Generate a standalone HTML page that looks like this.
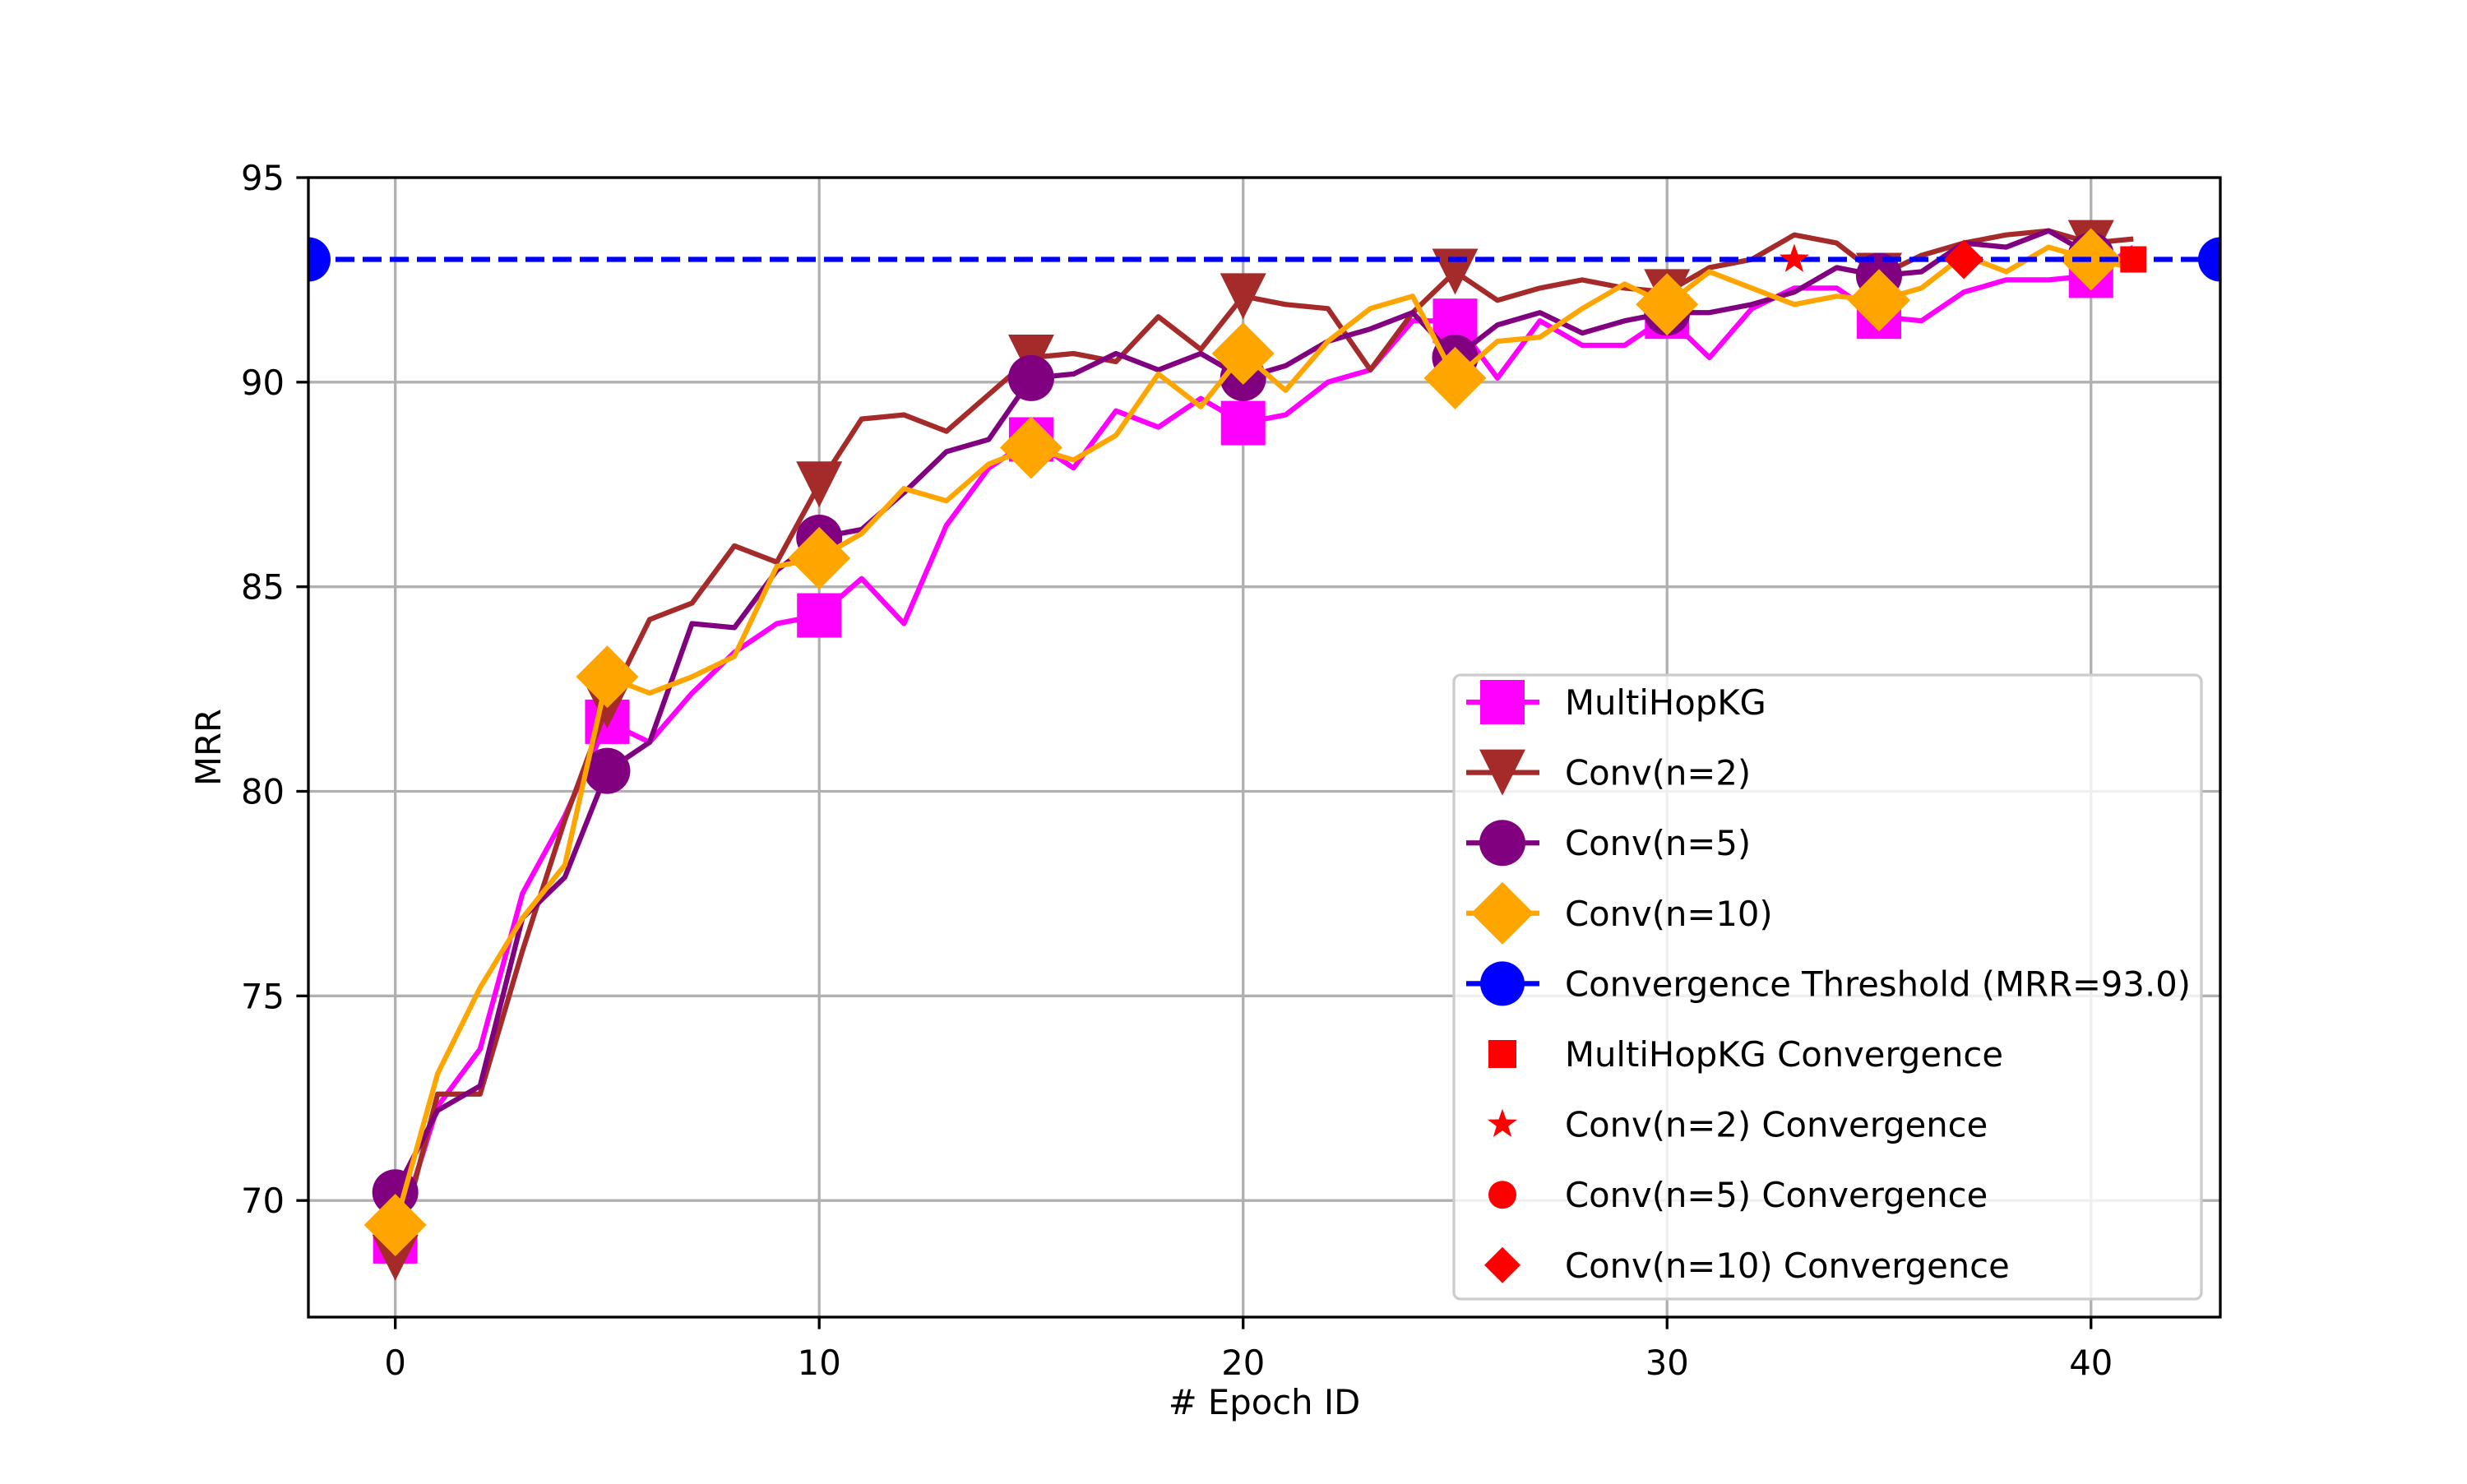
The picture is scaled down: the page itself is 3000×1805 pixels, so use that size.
<!DOCTYPE html>
<html><head><meta charset="utf-8"><style>
html,body{margin:0;padding:0;background:#fff;}
svg text{font-family:"DejaVu Sans","Liberation Sans",sans-serif;}
</style></head><body>
<svg id="chart" xmlns="http://www.w3.org/2000/svg" width="3000" height="1800" viewBox="0 0 3000 1800">
<rect width="3000" height="1800" fill="#fff"/>
<g id="grid"></g>
<g id="series"></g>
<g id="axes"></g>
<g id="legend"></g>
</svg>
<script>
const epochs = [0,1,2,3,4,5,6,7,8,9,10,11,12,13,14,15,16,17,18,19,20,21,22,23,24,25,26,27,28,29,30,31,32,33,34,35,36,37,38,39,40,41];
const multiHopKG = [69.0,72.3,73.7,77.5,79.4,81.7,81.2,82.4,83.4,84.1,84.3,85.2,84.1,86.5,87.9,88.6,87.9,89.3,88.9,89.6,89.0,89.2,90.0,90.3,91.5,91.5,90.1,91.5,90.9,90.9,91.6,90.6,91.8,92.3,92.3,91.6,91.5,92.2,92.5,92.5,92.6,93.3];
const conv2 = [68.6,72.6,72.6,76.1,79.3,82.1,84.2,84.6,86.0,85.6,87.5,89.1,89.2,88.8,89.7,90.6,90.7,90.5,91.6,90.8,92.1,91.9,91.8,90.3,91.7,92.7,92.0,92.3,92.5,92.3,92.2,92.8,93.0,93.6,93.4,92.6,93.1,93.4,93.6,93.7,93.4,93.5];
const conv5 = [70.2,72.2,72.8,76.9,77.9,80.5,81.2,84.1,84.0,85.4,86.2,86.4,87.3,88.3,88.6,90.1,90.2,90.7,90.3,90.7,90.1,90.4,91.0,91.3,91.7,90.6,91.4,91.7,91.2,91.5,91.7,91.7,91.9,92.2,92.8,92.6,92.7,93.4,93.3,93.7,93.1,92.9];
const conv10 = [69.4,73.1,75.2,76.9,78.2,82.8,82.4,82.8,83.3,85.5,85.7,86.3,87.4,87.1,88.0,88.4,88.1,88.7,90.2,89.4,90.7,89.8,91.0,91.8,92.1,90.1,91.0,91.1,91.8,92.4,91.9,92.7,92.3,91.9,92.1,92.0,92.3,93.1,92.7,93.3,93.0,92.8];
const threshold = [93.0];
const convergenceEpochs = [41,33,37,37];
const xTicks = [0,10,20,30,40];
const yTicks = [70,75,80,85,90,95];

const NS="http://www.w3.org/2000/svg";
const L=375,R=2700,T=216,B=1602;
const XMIN=-2.05,XMAX=43.05,YMIN=67.15,YMAX=95;
function sx(v){return L+(v-XMIN)/(XMAX-XMIN)*(R-L);}
function sy(v){return B-(v-YMIN)/(YMAX-YMIN)*(B-T);}
function mk(tag,attrs,parent){const e=document.createElementNS(NS,tag);for(const k in attrs)e.setAttribute(k,attrs[k]);parent.appendChild(e);return e;}

function marker(shape,cx,cy,s,color,parent){
  let e;
  if(shape==='square') e=mk('rect',{x:cx-s/2,y:cy-s/2,width:s,height:s,fill:color},parent);
  else if(shape==='tri') e=mk('polygon',{points:`${cx-s/2},${cy-s/2} ${cx+s/2},${cy-s/2} ${cx},${cy+s/2}`,fill:color},parent);
  else if(shape==='circle') e=mk('circle',{cx:cx,cy:cy,r:s/2,fill:color},parent);
  else if(shape==='diamond') e=mk('polygon',{points:`${cx},${cy-s/2} ${cx+s/2},${cy} ${cx},${cy+s/2} ${cx-s/2},${cy}`,fill:color},parent);
  else if(shape==='star'){let p=[];for(let i=0;i<10;i++){const r=i%2?s*0.2:s*0.5;const a=-Math.PI/2+i*Math.PI/5;p.push((cx+r*Math.cos(a)).toFixed(1)+','+(cy+r*Math.sin(a)).toFixed(1));}e=mk('polygon',{points:p.join(' '),fill:color},parent);}
  return e;
}

const grid=document.getElementById('grid');
xTicks.forEach(t=>{const l=mk('line',{x1:sx(t),x2:sx(t),y1:T,y2:B,stroke:'#b0b0b0','stroke-width':3.3},grid);

});
yTicks.forEach(t=>{const l=mk('line',{x1:L,x2:R,y1:sy(t),y2:sy(t),stroke:'#b0b0b0','stroke-width':3.3},grid);

});

const seriesG=document.getElementById('series');
const clip=mk('clipPath',{id:'pc'},mk('defs',{},seriesG));mk('rect',{x:L,y:T,width:R-L,height:B-T},clip);
const plotG=mk('g',{'clip-path':'url(#pc)'},seriesG);
const series=[
 {name:'multihopkg',vals:multiHopKG,color:'#ff00ff',shape:'square',size:54},
 {name:'conv-n2',vals:conv2,color:'#a52a2a',shape:'tri',size:56},
 {name:'conv-n5',vals:conv5,color:'#800080',shape:'circle',size:56},
 {name:'conv-n10',vals:conv10,color:'#ffa500',shape:'diamond',size:76}
];
series.forEach(s=>{
  const g=mk('g',{},plotG);
  
  
  const pts=epochs.map((e,i)=>sx(e).toFixed(1)+','+sy(s.vals[i]).toFixed(1)).join(' ');
  const pl=mk('polyline',{points:pts,fill:'none',stroke:s.color,'stroke-width':6.25,'stroke-linejoin':'round'},g);
  
  
  epochs.forEach((e,i)=>{if(e%5===0){const m=marker(s.shape,sx(e),sy(s.vals[i]),s.size,s.color,g);
    
    }});
});
const th=mk('line',{x1:sx(XMIN),x2:sx(XMAX),y1:sy(threshold[0]),y2:sy(threshold[0]),stroke:'#0000ff','stroke-width':6.25,'stroke-dasharray':'23,10'},plotG);


[XMIN,XMAX].forEach(x=>{const c=marker('circle',sx(x),sy(threshold[0]),54,'#0000ff',plotG);

});
const convShapes=['square','star','circle','diamond'];
convergenceEpochs.forEach((e,i)=>{const m=marker(convShapes[i],sx(e),sy(threshold[0]),convShapes[i]==='diamond'?48:(convShapes[i]==='star'?38:32),'#ff0000',plotG);

});

const ax=document.getElementById('axes');
mk('rect',{x:L,y:T,width:R-L,height:B-T,fill:'none',stroke:'#000','stroke-width':3.3},ax);
xTicks.forEach(t=>{mk('line',{x1:sx(t),x2:sx(t),y1:B,y2:B+14.6,stroke:'#000','stroke-width':3.3},ax);
  const tx=mk('text',{x:sx(t),y:B+70,'font-size':41.7,'text-anchor':'middle'},ax);tx.textContent=t;
  
  });
yTicks.forEach(t=>{mk('line',{x1:L,x2:L-14.6,y1:sy(t),y2:sy(t),stroke:'#000','stroke-width':3.3},ax);
  const tx=mk('text',{x:L-29,y:sy(t)+15,'font-size':41.7,'text-anchor':'end'},ax);tx.textContent=t;
  
  });
const xl=mk('text',{x:(L+R)/2,y:1720,'font-size':41.7,'text-anchor':'middle'},ax);xl.textContent='# Epoch ID';


const yl=mk('text',{x:0,y:0,'font-size':41.7,'text-anchor':'middle',transform:`translate(268,${(T+B)/2}) rotate(-90)`},ax);yl.textContent='MRR';



const lg=document.getElementById('legend');
mk('rect',{x:1768,y:821,width:909,height:759,rx:8,fill:'#fff','fill-opacity':0.8,stroke:'#cccccc','stroke-width':3.3},lg);
const entries=[
 {label:'MultiHopKG',color:'#ff00ff',shape:'square',size:54,line:true},
 {label:'Conv(n=2)',color:'#a52a2a',shape:'tri',size:56,line:true},
 {label:'Conv(n=5)',color:'#800080',shape:'circle',size:56,line:true},
 {label:'Conv(n=10)',color:'#ffa500',shape:'diamond',size:76,line:true},
 {label:'Convergence Threshold (MRR=93.0)',color:'#0000ff',shape:'circle',size:54,line:true,dash:true},
 {label:'MultiHopKG Convergence',color:'#ff0000',shape:'square',size:34},
 {label:'Conv(n=2) Convergence',color:'#ff0000',shape:'star',size:38},
 {label:'Conv(n=5) Convergence',color:'#ff0000',shape:'circle',size:34},
 {label:'Conv(n=10) Convergence',color:'#ff0000',shape:'diamond',size:44}
];
entries.forEach((en,i)=>{
  const y=854+i*85.6;
  const g=mk('g',{},lg);
  
  
  if(en.line){const a={x1:1783,x2:1872,y1:y,y2:y,stroke:en.color,'stroke-width':6.25};if(en.dash){a['stroke-dasharray']='23,10';}mk('line',a,g);}
  marker(en.shape,1827,y,en.size,en.color,g);
  const t=mk('text',{x:1903,y:y+15,'font-size':41.7},g);t.textContent=en.label;
});
</script>
</body></html>
